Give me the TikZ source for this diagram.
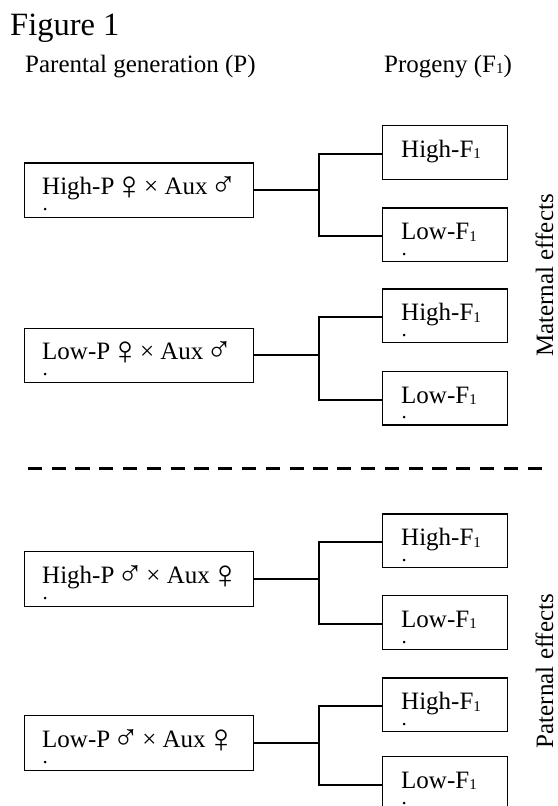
\documentclass[tikz,border=0pt]{standalone}
\usepackage{fontspec}
\usepackage{graphicx}
\setmainfont{Liberation Serif}
\usetikzlibrary{calc}
\newcommand{\fem}{\makebox[14pt][c]{\raisebox{-5pt}{\resizebox*{!}{22.6pt}{♀}}}}
\newcommand{\mal}{\makebox[16.5pt][c]{\raisebox{-2pt}{\resizebox*{!}{20pt}{♂}}}}
\newcommand{\Fone}{F\raisebox{-1.5pt}{\fontsize{15}{15}\selectfont 1}}
\newcommand{\crossFM}[2]{#1\hspace{8.5pt}\fem\hspace{7.3pt}×\hspace{6.25pt}Aux\hspace{7.6pt}\mal}
\newcommand{\crossMF}[2]{#1\hspace{7.5pt}\mal\hspace{8pt}×\hspace{6.25pt}Aux\hspace{8.5pt}\fem}
\tikzset{
  pbox/.style={draw, line width=1.3pt, minimum width=229pt, minimum height=54.5pt, inner sep=0pt, anchor=north west},
  fbox/.style={draw, line width=1.3pt, minimum width=125pt, minimum height=53.5pt, inner sep=0pt, anchor=north west},
  lbl/.style={anchor=base west, inner sep=0pt, font=\fontsize{25}{30}\selectfont},
  dotm/.style={anchor=base west, inner sep=0pt, font=\fontsize{21}{21}\selectfont},
  conn/.style={line width=2pt},
  sep/.style={line width=3.5pt, dash pattern=on 14.2pt off 9.6pt},
  side/.style={rotate=90, anchor=base, inner sep=0pt, font=\fontsize{25}{30}\selectfont}
}
\begin{document}
\begin{tikzpicture}[x=1pt,y=-1pt]
\useasboundingbox (0,0) rectangle (557,806);
% headings
\node[anchor=base west, inner sep=0pt, font=\fontsize{32.5}{38}\selectfont] (title) at (10,35) {Figure 1};
\node[lbl] (hp) at (25,72) {Parental generation (P)};
\node[lbl] (hf) at (384,72) {Progeny (\Fone)};
% parental boxes
\node[pbox] (p1) at (24,162.3) {};
\node[pbox] (p2) at (24,327.5) {};
\node[pbox] (p3) at (24,551) {};
\node[pbox] (p4) at (24,715) {};
% progeny boxes
\node[fbox] (c11) at (382,125) {};
\node[fbox] (c12) at (382,207.3) {};
\node[fbox] (c21) at (382,288.3) {};
\node[fbox] (c22) at (382,370.7) {};
\node[fbox] (c31) at (382,513.3) {};
\node[fbox] (c32) at (382,595) {};
\node[fbox] (c41) at (382,677.3) {};
\node[fbox] (c42) at (382,756) {};
% parental labels
\node[lbl] (t1) at ($(p1.north west)+(18,32.3)$) {\crossFM{High-P}{}};
\node[lbl] (t2) at ($(p2.north west)+(18,32.3)$) {\crossFM{Low-P}{}};
\node[lbl] (t3) at ($(p3.north west)+(18,32.3)$) {\crossMF{High-P}{}};
\node[lbl] (t4) at ($(p4.north west)+(18,32.3)$) {\crossMF{Low-P}{}};
\foreach \b in {p1,p2,p3,p4}{
  \node[dotm] (d\b) at ($(\b.north west)+(18.3,48)$) {.};
}
% progeny labels
\foreach \b/\t in {c11/High,c12/Low,c21/High,c22/Low,c31/High,c32/Low,c41/High,c42/Low}{
  \node[lbl] (l\b) at ($(\b.north west)+(19,32.3)$) {\t-\Fone};
}
\foreach \b in {c12,c21,c22,c31,c32,c41,c42}{
  \node[dotm] (d\b) at ($(\b.north west)+(19.5,48)$) {.};
}
% connectors
\foreach \p/\a/\c in {p1/c11/c12,p2/c21/c22,p3/c31/c32,p4/c41/c42}{
  \coordinate (j\p) at ($(\p.east)+(65,0)$);
  \draw[conn] (\p.east) -- (j\p);
  \draw[conn] ($(\a.west)+(0,1.5)$) -| (j\p) |- ($(\c.west)+(0,1.5)$);
}
% separator
\coordinate (s1) at (27.7,468.5);
\coordinate (s2) at (546,468.5);
\draw[sep] (s1) -- (s2);
% side labels
\node[side] (mat) at (553,275.5) {Maternal effects};
\node[side] (pat) at (553,671) {Paternal effects};
\end{tikzpicture}
\end{document}
